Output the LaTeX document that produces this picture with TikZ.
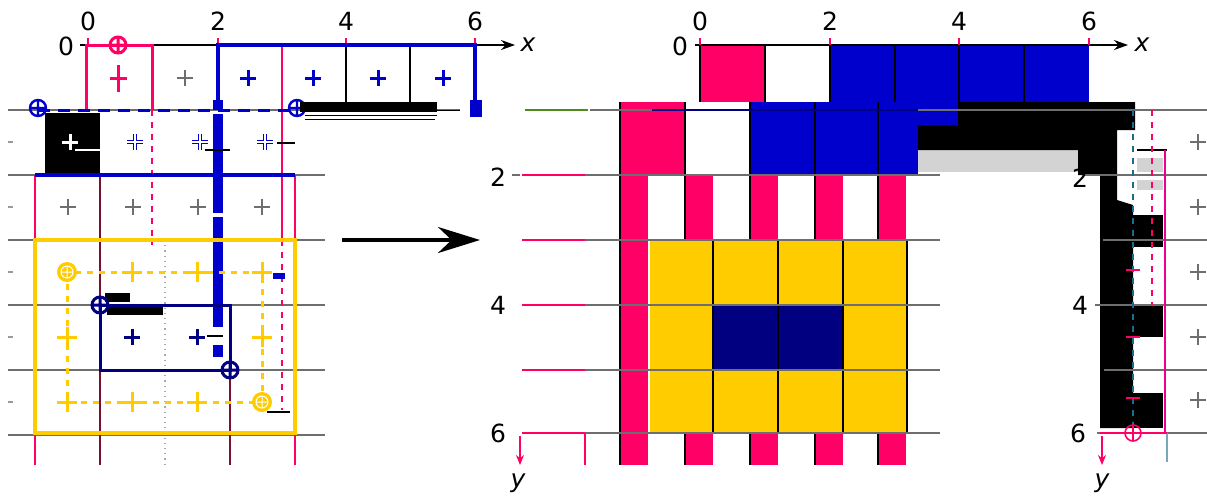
\documentclass[tikz,border=0pt]{standalone}
\usepackage{fontspec}
\setmainfont{DejaVu Sans}
\usetikzlibrary{arrows.meta}
\definecolor{pk}{HTML}{FF0066}
\definecolor{bl}{HTML}{0000CC}
\definecolor{yl}{HTML}{FFCC00}
\definecolor{nv}{HTML}{000080}
\definecolor{gr}{HTML}{6E6E6E}
\definecolor{lg}{HTML}{D3D3D3}
\definecolor{dkr}{HTML}{7A1030}
\definecolor{grn}{HTML}{4C8C1C}
\definecolor{cy}{HTML}{1A6E8C}
\newcommand{\plusat}[3][]{\draw[#1] ({#2-8},#3) -- ({#2+8},#3) (#2,{#3-8}) -- (#2,{#3+8});}
\newcommand{\bigplusat}[3][]{\draw[#1] ({#2-10},#3) -- ({#2+10},#3) (#2,{#3-10}) -- (#2,{#3+10});}
\newcommand{\ringat}[3][]{\draw[#1] (#2,#3) circle[radius=8] ({#2-8},#3) -- ({#2+8},#3) (#2,{#3-8}) -- (#2,{#3+8});}
\begin{document}
\begin{tikzpicture}[x=0.5pt,y=-0.5pt,
  lbl/.style={font=\fontsize{12.5}{15}\selectfont, inner sep=0pt, anchor=center},
  gridline/.style={draw=gr, line width=0.7pt},
  thinblk/.style={draw=black, line width=0.6pt},
  axisline/.style={draw=black, line width=0.8pt, -{Stealth[length=7pt,width=5pt]}},
  bigarrow/.style={draw=black, line width=2pt, -{Stealth[length=21pt,width=13pt]}},
]
\fill[white] (0,0) rectangle (1207,495);
\useasboundingbox (0,0) rectangle (1207,495);

% ================= LEFT PANEL =================
\foreach \yy in {175,240,305,370,435} {\draw[gridline] (8,\yy) -- (325,\yy);}
\draw[gridline] (8,110) -- (460,110);
\foreach \yy in {142,207,272,337,402} {\draw[gr!70, line width=0.6pt] (8,\yy) -- (13,\yy);}
\draw[pk, line width=0.8pt] (35,175) -- (35,465);
\draw[pk, line width=0.8pt] (295,175) -- (295,465);
\draw[dkr, line width=0.8pt] (100,175) -- (100,465);
\draw[dkr, line width=0.8pt] (230,370) -- (230,465);
\draw[gr!60, dotted, line width=0.6pt] (165,240) -- (165,465);
\draw[pk, dashed, line width=0.8pt] (152,110) -- (152,245);
\draw[pk, line width=0.6pt] (282,45) -- (282,240);
\draw[pk, dashed, line width=0.6pt] (282,240) -- (282,410);
\draw[thinblk] (346,45) -- (346,110);
\draw[thinblk] (410,45) -- (410,110);

% axis
\draw[axisline] (80,45) -- (515,45);
\foreach \xx in {88,218,346,475} {\draw[pk, line width=0.6pt] (\xx,38) -- (\xx,45);}
\node[lbl] (l0) at (88,21) {0};
\node[lbl] (l2) at (218,21) {2};
\node[lbl] (l4) at (346,21) {4};
\node[lbl] (l6) at (475,21) {6};
\node[lbl] (ly0) at (66,46) {0};
\node[lbl, font=\fontsize{12.5}{15}\selectfont\itshape] (lx) at (528,45) {x};

% red box
\draw[pk, line width=1.5pt] (86,110) -- (86,45) -- (152,45) -- (152,110);
\ringat[pk, line width=1.5pt]{118}{45}
\draw[pk, line width=1.5pt] (110,78) -- (127,78) (118,65) -- (118,92);
\plusat[gr, line width=0.6pt]{185}{78}

% blue frame
\draw[bl, line width=2pt] (218,100) -- (218,45) -- (475,45) -- (475,110);
\fill[bl] (470,100) rectangle (482,117);
\foreach \s/\e in {100/110,114/213,217/327,345/357}
  {\draw[bl, line width=5pt] (218,\s) -- (218,\e);}
\foreach \xx in {248,313,378,443} {\plusat[bl, line width=1.5pt]{\xx}{78}}

% row 1
\fill[black] (45,113) rectangle (100,175);
\plusat[white, line width=1.5pt]{70}{142}
\draw[white, line width=0.6pt] (75,150) -- (100,150);
\foreach \xx in {135,200,265} {%
  \plusat[bl, line width=1.8pt]{\xx}{142}%
  \plusat[white, line width=0.6pt]{\xx}{142}%
}
\draw[black, line width=1pt] (205,150) -- (230,150);
\draw[black, line width=1.2pt] (277,143) -- (295,143);
\draw[bl, dash pattern=on 6pt off 4pt, line width=1.5pt] (38,110) -- (297,110);
\ringat[bl, line width=1.2pt]{38}{108}
\ringat[bl, line width=1.2pt]{297}{108}
\draw[bl, line width=2pt] (35,175) -- (295,175);

% black artefact on row line
\fill[black] (300,102) rectangle (437,112);
\draw[black, line width=0.5pt] (305,115) -- (437,115) (305,119) -- (435,119) (437,110) -- (460,110);

% row 2
\foreach \xx in {68,133,198,262} {\plusat[gr, line width=0.6pt]{\xx}{207}}

% yellow frames
\draw[yl, line width=2pt] (35,240) rectangle (295,433);
\draw[yl, dashed, line width=1.5pt] (67,272) rectangle (262,402);
\foreach \xx/\yy in {132/272,197/272,262/272,67/337,262/337,67/402,132/402,197/402}
  {\bigplusat[yl, line width=1.5pt]{\xx}{\yy}}
\foreach \xx/\yy in {67/272,262/402} {%
  \fill[yl] (\xx,\yy) circle[radius=10];
  \draw[white, line width=0.5pt] (\xx,\yy) circle[radius=6] ({\xx-6},\yy) -- ({\xx+6},\yy) (\xx,{\yy-6}) -- (\xx,{\yy+6});
}
\fill[bl] (273,273) rectangle (285,279);

% navy rectangle
\fill[black] (105,293) rectangle (130,302);
\fill[black] (107,307) rectangle (163,315);
\draw[nv, line width=1.5pt] (100,305) rectangle (230,370);
\ringat[nv, line width=1.5pt]{100}{305}
\ringat[nv, line width=1.5pt]{230}{370}
\plusat[nv, line width=1.5pt]{132}{337}
\plusat[nv, line width=1.5pt]{197}{337}
\draw[black, line width=1pt] (207,336) -- (223,336);
\draw[black, line width=0.8pt] (267,412) -- (290,412);

% connector arrow
\coordinate (arrS) at (342,240);
\coordinate (arrE) at (480,240);
\draw[bigarrow] (arrS) -- (arrE);

% ================= RIGHT PANEL =================
\fill[pk] (700,45) rectangle (765,102);
\fill[bl] (830,45) rectangle (1089,110);
\fill[pk] (620,102) rectangle (685,175);
\fill[bl] (750,102) rectangle (918,175);
\fill[bl] (918,102) rectangle (958,125);
\foreach \xx in {620,685,750,815,878} {%
  \fill[pk] (\xx,175) rectangle ({\xx+28},240);
  \fill[pk] (\xx,433) rectangle ({\xx+28},465);
}
\fill[pk] (620,240) rectangle (648,433);
\fill[yl] (650,240) rectangle (907,433);
\fill[nv] (713,305) rectangle (843,370);

% black / gray region
\fill[lg] (918,150) rectangle (1078,172);
\fill[black] (918,125) -- (958,125) -- (958,102) -- (1135,102) -- (1135,130) -- (1117,130)
  -- (1117,200) -- (1133,205) -- (1133,428) -- (1100,428) -- (1100,175) -- (1078,175)
  -- (1078,150) -- (918,150) -- cycle;
\fill[black] (1133,215) rectangle (1163,247);
\fill[black] (1133,305) rectangle (1163,337);
\fill[black] (1133,393) rectangle (1163,428);
\fill[lg] (1137,158) rectangle (1163,172);
\fill[lg] (1137,180) rectangle (1163,190);
\draw[black, line width=1pt] (1137,150) -- (1167,150);

% thin cell lines
\foreach \xx in {700,765,830,895,959,1024} {\draw[thinblk] (\xx,45) -- (\xx,102);}
\draw[thinblk] (620,102) -- (620,465);
\foreach \xx in {685,750,815,878} {%
  \draw[thinblk] (\xx,102) -- (\xx,240);
  \draw[thinblk] (\xx,433) -- (\xx,465);
}
\foreach \xx in {713,778,843,907} {\draw[thinblk] (\xx,240) -- (\xx,433);}

% horizontal grid lines
\draw[gridline] (590,110) -- (1207,110);
\draw[grn, line width=0.8pt] (525,110) -- (588,110);
\draw[nv, line width=0.6pt] (652,110) -- (918,110);
\foreach \yy in {175,240,305,370,433} {%
  \draw[pk, line width=0.8pt] (522,\yy) -- (585,\yy);
  \draw[gridline] (585,\yy) -- (940,\yy);
}
\draw[gridline] (1083,175) -- (1207,175);
\draw[gridline] (1103,240) -- (1207,240);
\draw[gridline] (1095,305) -- (1207,305);
\draw[gridline] (1104,370) -- (1207,370);
\draw[gridline] (1097,433) -- (1207,433);
\draw[pk, line width=0.6pt] (585,433) -- (585,465);

% right-side lines
\draw[cy, dashed, line width=1pt] (1133,110) -- (1133,430);
\draw[pk, dashed, line width=1.2pt] (1152,110) -- (1152,305);
\draw[magenta, line width=0.8pt] (1165,150) -- (1165,433);
\draw[cy!60, line width=0.6pt] (1167,433) -- (1167,462);
\draw[pk, line width=1pt] (1100,433) -- (1167,433);
\ringat[pk, line width=0.8pt]{1133}{433}
\foreach \yy in {270,337,398} {\draw[pk, line width=1pt] (1126,\yy) -- (1140,\yy);}
\foreach \yy in {142,207,272,337,400} {\plusat[gr, line width=0.6pt]{1198}{\yy}}

% axes
\draw[axisline] (695,45) -- (1128,45);
\foreach \xx in {700,830,959,1089} {\draw[pk, line width=0.6pt] (\xx,38) -- (\xx,45);}
\node[lbl] (r0) at (700,21) {0};
\node[lbl] (r2) at (830,21) {2};
\node[lbl] (r4) at (959,21) {4};
\node[lbl] (r6) at (1089,21) {6};
\node[lbl] (ry0) at (680,46) {0};
\node[lbl, font=\fontsize{12.5}{15}\selectfont\itshape] (rx) at (1142,45) {x};

\node[lbl] (ay2) at (498,177) {2};
\node[lbl] (ay4) at (498,305) {4};
\node[lbl] (ay6) at (498,433) {6};
\draw[gr, line width=0.6pt] (512,175) -- (520,175);
\draw[pk, line width=0.6pt, -{Stealth[length=5pt,width=4pt]}] (520,436) -- (520,465);
\node[lbl, font=\fontsize{12.5}{15}\selectfont\itshape] (ay) at (518,483) {y};

\node[lbl] (by2) at (1080,178) {2};
\node[lbl] (by4) at (1080,305) {4};
\node[lbl] (by6) at (1078,433) {6};
\draw[pk, line width=0.6pt, -{Stealth[length=5pt,width=4pt]}] (1102,436) -- (1102,465);
\node[lbl, font=\fontsize{12.5}{15}\selectfont\itshape] (by) at (1102,483) {y};
\end{tikzpicture}
\end{document}
